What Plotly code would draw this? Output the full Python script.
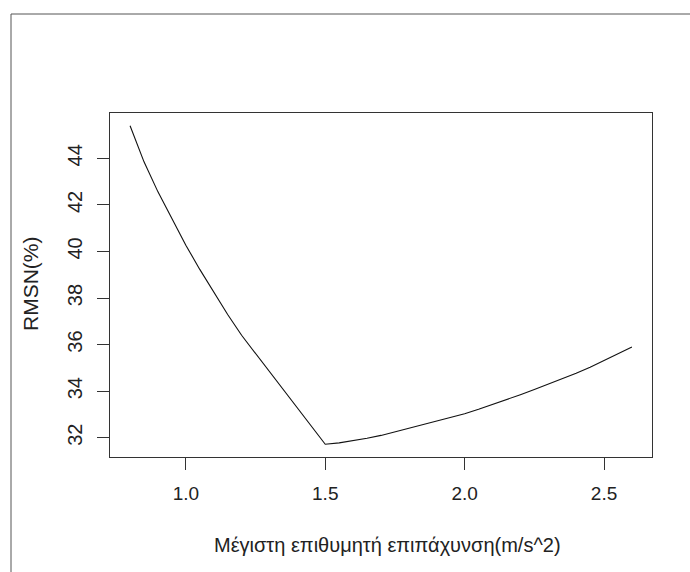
import plotly.graph_objects as go

# Maximum desired acceleration (m/s^2) and the resulting RMSN (%)
accel = [0.8, 0.85, 0.9, 0.95, 1.0, 1.05, 1.1, 1.15, 1.2, 1.25, 1.3, 1.35,
         1.4, 1.45, 1.5, 1.55, 1.6, 1.65, 1.7, 1.75, 1.8, 1.85, 1.9, 1.95,
         2.0, 2.05, 2.1, 2.15, 2.2, 2.25, 2.3, 2.35, 2.4, 2.45, 2.5, 2.55,
         2.6]
rmsn = [45.4, 43.85, 42.56, 41.38, 40.27, 39.23, 38.23, 37.29, 36.4, 35.62,
        34.86, 34.07, 33.29, 32.5, 31.72, 31.78, 31.87, 31.98, 32.1, 32.25,
        32.4, 32.55, 32.7, 32.86, 33.03, 33.22, 33.42, 33.63, 33.85, 34.07,
        34.3, 34.53, 34.77, 35.03, 35.31, 35.6, 35.9]

x_ticks = [1.0, 1.5, 2.0, 2.5]
x_tick_text = ["1.0", "1.5", "2.0", "2.5"]
y_ticks = [32, 34, 36, 38, 40, 42, 44]

x_title = "Μέγιστη επιθυμητή επιπάχυνση(m/s^2)"
y_title = "RMSN(%)"

W, H = 690, 572
L, R, T, B = 110, 38, 113, 115
pw, ph = W - L - R, H - T - B
FONT = "Liberation Sans, Arial"


def px(x):
    return (x - L) / pw


def py(y):
    return (H - B - y) / ph


# R-style 4% padding around the data range
xpad = (max(accel) - min(accel)) * 0.04
ypad = (max(rmsn) - min(rmsn)) * 0.04

fig = go.Figure(go.Scatter(x=accel, y=rmsn, mode="lines",
                           line=dict(color="#111111", width=1.1),
                           hoverinfo="skip"))

axis_common = dict(showgrid=False, zeroline=False, showline=True, mirror=True,
                   linecolor="#333333", linewidth=1.3, ticks="outside",
                   ticklen=12, tickwidth=1.3, tickcolor="#333333")

fig.update_xaxes(range=[min(accel) - xpad, max(accel) + xpad],
                 tickvals=x_ticks, ticktext=x_tick_text,
                 ticklabelstandoff=7,
                 tickfont=dict(family=FONT, size=19, color="#222222"),
                 **axis_common)
fig.update_yaxes(range=[min(rmsn) - ypad, max(rmsn) + ypad],
                 tickvals=y_ticks, tickangle=-90,
                 ticklabelstandoff=7,
                 tickfont=dict(family=FONT, size=20, color="#222222"),
                 **axis_common)

# outer frame around the graphics device
fig.add_shape(type="line", xref="paper", yref="paper",
              x0=px(11), x1=px(W + 2), y0=py(14), y1=py(14),
              line=dict(color="#555555", width=1))
fig.add_shape(type="line", xref="paper", yref="paper",
              x0=px(11), x1=px(11), y0=py(14), y1=py(H + 2),
              line=dict(color="#555555", width=1))

fig.add_annotation(text=x_title, xref="paper", yref="paper",
                   x=px(387), y=py(545), xanchor="center", yanchor="middle",
                   showarrow=False,
                   font=dict(family=FONT, size=20, color="#222222"))
fig.add_annotation(text=y_title, xref="paper", yref="paper",
                   x=px(30), y=py(284), xanchor="center", yanchor="middle",
                   textangle=-90, showarrow=False,
                   font=dict(family=FONT, size=21, color="#222222"))

fig.update_layout(width=W, height=H, margin=dict(l=L, r=R, t=T, b=B),
                  paper_bgcolor="white", plot_bgcolor="white",
                  showlegend=False)

fig.write_html("out.html")
